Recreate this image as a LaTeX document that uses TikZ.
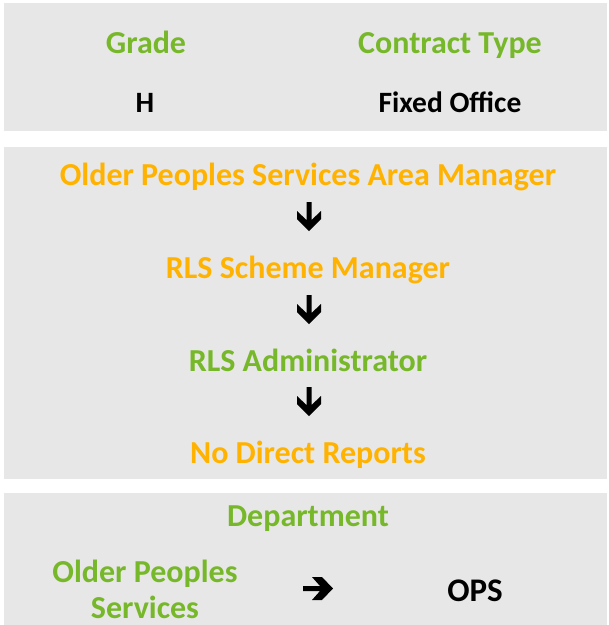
\documentclass[tikz,border=0pt]{standalone}
\usepackage{fontspec}
\setmainfont{Carlito}
\definecolor{panelgrey}{HTML}{E7E7E7}
\definecolor{hgreen}{HTML}{77B82A}
\definecolor{horange}{HTML}{FFB300}
\begin{document}
\begin{tikzpicture}[x=1pt,y=-1pt,
  panel/.style={fill=panelgrey,draw=none},
  lbl/.style={anchor=base,inner sep=0pt,font=\fontsize{32}{38}\selectfont\bfseries},
  val/.style={anchor=base,inner sep=0pt,font=\fontsize{29.5}{35}\selectfont\bfseries,text=black},
  green/.style={lbl,text=hgreen},
  orange/.style={lbl,text=horange},
  arr/.style={fill=black,draw=none}]
\useasboundingbox (0,0) rectangle (609,625);
\fill[white] (0,0) rectangle (609,625);
\path[panel] (4,3) rectangle (607,131);
\path[panel] (4,147) rectangle (607,479);
\path[panel] (4,493) rectangle (607,625);
% panel 1
\node[green] (grade) at (146,53.5) {Grade};
\node[green] (ctype) at (450,53.5) {Contract Type};
\node[val] (h) at (145,112) {H};
\node[val] (fo) at (450,112) {Fixed Office};
% panel 2
\node[orange] (m1) at (308,185.5) {Older Peoples Services Area Manager};
\node[orange] (m2) at (308,278.5) {RLS Scheme Manager};
\node[green] (m3) at (308,371) {RLS Administrator};
\node[orange] (m4) at (308,463.5) {No Direct Reports};
\foreach \yy in {202,295,387}{
  \fill[arr] (297,\yy+9) -- (306.5,\yy+18) -- (306.5,\yy) -- (311.5,\yy) -- (311.5,\yy+18) -- (321,\yy+9) -- (321,\yy+17) -- (309,\yy+29) -- (297,\yy+17) -- cycle;
}
% panel 3
\node[green] (dept) at (308,526.5) {Department};
\node[green] (ops1) at (145,582) {Older Peoples};
\node[green] (ops2) at (145,618) {Services};
\node[val,font=\fontsize{33}{39}\selectfont\bfseries] (ops) at (475,601) {OPS};
\fill[arr] (303,586) -- (320,586) -- (312,577) -- (322,577) -- (333,588.5) -- (322,600) -- (312,600) -- (320,591) -- (303,591) -- cycle;
\end{tikzpicture}
\end{document}
